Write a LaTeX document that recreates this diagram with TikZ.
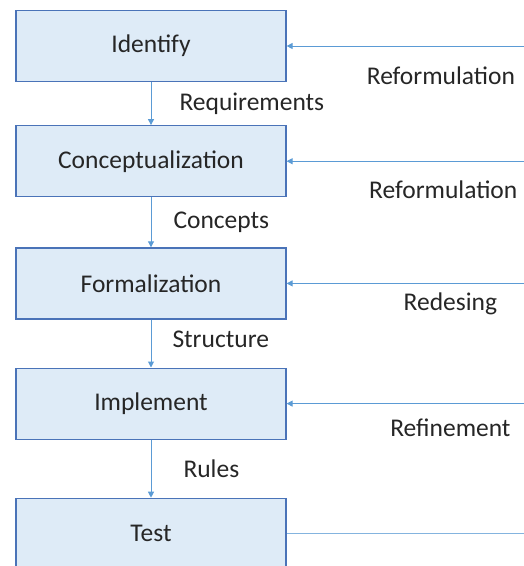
\documentclass[tikz,border=0pt]{standalone}
\usepackage{fontspec}
\setmainfont{Carlito}
\usetikzlibrary{arrows.meta,positioning}
\definecolor{stfill}{HTML}{DEEBF7}
\definecolor{stline}{HTML}{4A73B8}
\definecolor{starrow}{HTML}{5B9BD5}
\definecolor{sttext}{HTML}{262626}

\begin{document}
\begin{tikzpicture}[font=\fontsize{25.5}{30}\selectfont,text=sttext,
        b/.style={draw=stline,line width=1.2pt,fill=stfill,minimum width=270pt,
          minimum height=71pt,align=center},
        a/.style={-{Triangle[length=6pt,width=6pt]},line width=1pt,starrow},
        lbl/.style={inner sep=0pt,text=sttext}]
        \useasboundingbox (0,0) rectangle (524pt,-566pt);
        \node[b] (id) at (151pt,-46pt) {Identify};
        \node[b,below=43pt of id] (con) {Conceptualization};
        \node[b,below=50pt of con] (frm) {Formalization};
        \node[b,below=48pt of frm] (imp) {Implement};
        \node[b,below=58pt of imp] (tst) {Test};
        % steps
        \draw[a] (id)--node[lbl,right=28pt]{Requirements} (con);
        \draw[a] (con)--node[lbl,right=22pt]{Concepts} (frm);
        \draw[a] (frm)--node[lbl,right=21pt,yshift=4pt]{Structure} (imp);
        \draw[a] (imp)--node[lbl,right=32pt]{Rules} (tst);
        % feedback from the right
        \coordinate (r1) at (524pt,0 |- id.east);
        \coordinate (r2) at (524pt,0 |- con.east);
        \coordinate (r3) at (524pt,0 |- frm.east);
        \coordinate (r4) at (524pt,0 |- imp.east);
        \coordinate (r5) at (524pt,0 |- tst.east);
        \draw[a] (r1)--node[lbl,pos=0.35,below=20pt]{Reformulation} (id);
        \draw[a] (r2)--node[lbl,pos=0.34,below=19pt]{Reformulation} (con);
        \draw[a] (r3)--node[lbl,pos=0.31,below=9pt]{Redesing} (frm);
        \draw[a] (r4)--node[lbl,pos=0.31,below=15pt]{Refinement} (imp);
        \draw[line width=1pt,starrow!75] (r5)--(tst);
      \end{tikzpicture}
\end{document}
